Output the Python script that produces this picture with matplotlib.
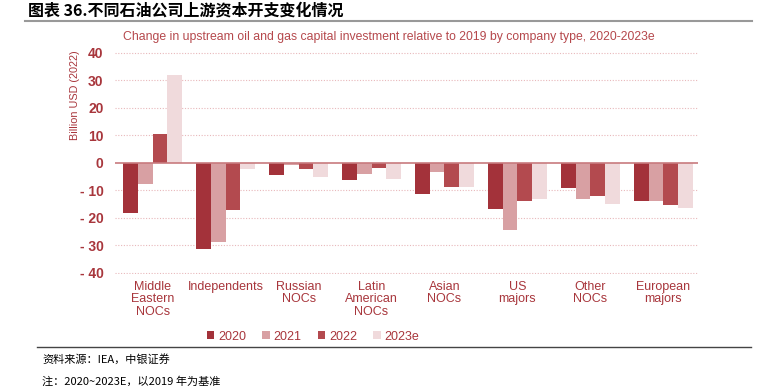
import matplotlib
matplotlib.use("Agg")
import matplotlib.pyplot as plt
import numpy as np

plt.rcParams['font.family'] = ['Liberation Sans', 'Noto Sans CJK SC', 'DejaVu Sans']

categories = ["Middle\nEastern\nNOCs", "Independents", "Russian\nNOCs", "Latin\nAmerican\nNOCs",
              "Asian\nNOCs", "US\nmajors", "Other\nNOCs", "European\nmajors"]
series_names = ["2020", "2021", "2022", "2023e"]
v2020 = [-18.3, -31.2, -4.3, -6.1, -11.4, -16.6, -9.3, -14.0]
v2021 = [-7.7, -28.6, -0.8, -4.1, -3.3, -24.3, -13.0, -14.0]
v2022 = [10.5, -17.1, -2.4, -1.9, -8.9, -13.7, -11.9, -15.2]
v2023 = [31.8, -2.4, -5.3, -5.7, -8.9, -13.3, -14.9, -16.3]
yticks = [40, 30, 20, 10, 0, -10, -20, -30, -40]

colors = ["#a3323a", "#d8a0a3", "#b34a4f", "#f0dadc"]
red = "#a8363c"

fig = plt.figure(figsize=(7.7, 3.86), dpi=100)
ax = fig.add_axes([0.149, 0.291, 0.757, 0.574])

x = np.arange(len(categories))
w = 0.2
for i, (vals, name) in enumerate(zip([v2020, v2021, v2022, v2023], series_names)):
    ax.bar(x + (i - 1.5) * w, vals, w, color=colors[i], label=name, zorder=3)

ax.set_ylim(-40.3, 40.3)
ax.set_xlim(-0.52, 7.47)
ax.set_yticks(yticks)
ax.set_yticklabels([str(t) if t >= 0 else "- " + str(-t) for t in yticks],
                   color=red, fontsize=10, fontweight="bold")
ax.set_xticks(x)
ax.set_xticklabels(categories, color=red, fontsize=9, linespacing=1.05)
ax.tick_params(length=0)
ax.tick_params(axis='y', pad=8)
ax.tick_params(axis='x', pad=5)
for s in ax.spines.values():
    s.set_visible(False)
for t in yticks:
    if t != 0:
        ax.axhline(t, color="#e8b8bb", lw=0.8, ls=(0, (1, 1.5)), zorder=1)
ax.axhline(0, color="#c87a7e", lw=1.2, zorder=4)
ax.set_ylabel("Billion USD (2022)", color=red, fontsize=7.8)
ax.yaxis.set_label_coords(-0.06, 0.806)

ax.legend(loc="center", bbox_to_anchor=(0.34, -0.285), ncol=4, frameon=False,
          fontsize=9, handlelength=0.6, handleheight=0.6, handletextpad=0.3,
          columnspacing=1.3, labelcolor=red)

fig.text(0.505, 0.905, "Change in upstream oil and gas capital investment relative to 2019 by company type, 2020-2023e",
         ha="center", va="center", color="#b5484c", fontsize=8.8)
fig.text(0.036, 0.972, "图表 36.不同石油公司上游资本开支变化情况", ha="left", va="center",
         fontsize=11.5, fontweight="bold", family=['Noto Sans CJK SC'])
fig.add_artist(plt.Line2D([0.033, 0.977], [0.946, 0.946], color="#999999", lw=1.5))
fig.add_artist(plt.Line2D([0.048, 0.975], [0.1, 0.1], color="#444444", lw=1))
fig.text(0.055, 0.07, "资料来源：IEA，中银证券", ha="left", va="center", fontsize=8,
         style="italic", family=['Noto Sans CJK SC'])
fig.text(0.055, 0.012, "注：2020~2023E，以2019 年为基准", ha="left", va="center", fontsize=8,
         style="italic", family=['Noto Sans CJK SC'])

plt.savefig("out.png", dpi=100)
